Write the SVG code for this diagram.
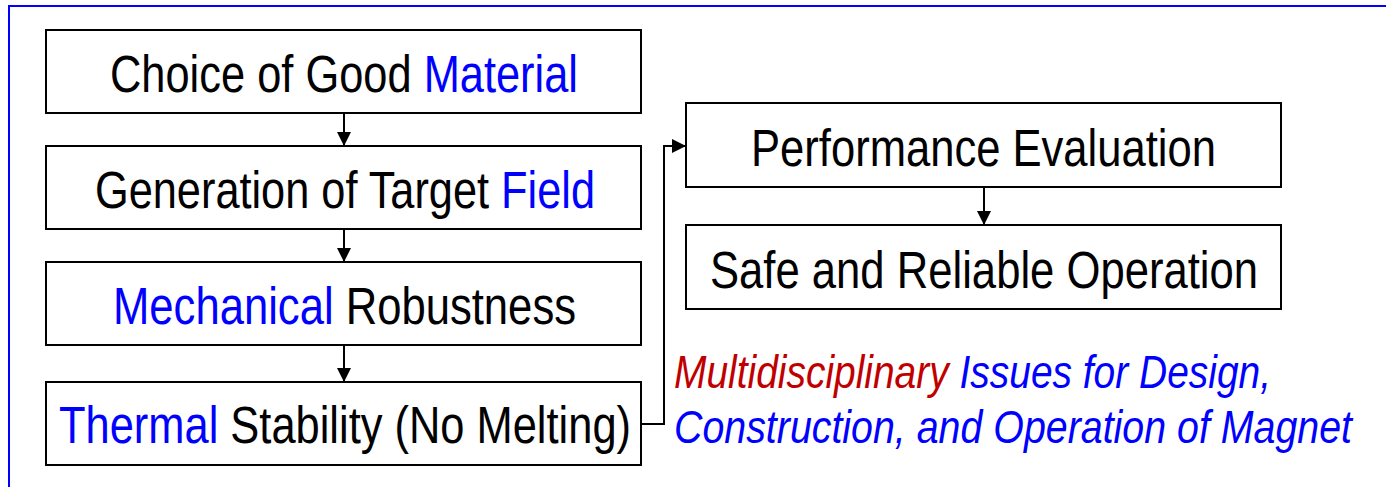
<svg xmlns="http://www.w3.org/2000/svg" width="1386" height="487" viewBox="0 0 1386 487">
<defs>
<marker id="ah" viewBox="0 0 14 14" refX="14" refY="7" markerWidth="14" markerHeight="14" markerUnits="userSpaceOnUse" orient="auto"><path d="M0,0 L14,7 L0,14 Z" fill="#000"/></marker>
</defs>
<style>
.box{fill:#fff;stroke:#000;stroke-width:2}
.t{font-family:"Liberation Sans",Arial,sans-serif;font-size:51px;fill:#000}
.b{fill:#0000ff}
.r{fill:#c00000}
.it{font-family:"Liberation Sans",Arial,sans-serif;font-size:47px;font-style:italic;fill:#0000ff}
.c{fill:none;stroke:#000;stroke-width:2;marker-end:url(#ah)}
</style>
<rect width="1386" height="487" fill="#fff"/>
<rect x="9" y="6" width="1400" height="500" fill="none" stroke="#0000ff" stroke-width="2"/>
<g id="connectors">
<line class="c" x1="344" y1="113" x2="344" y2="146"/>
<line class="c" x1="344" y1="229" x2="344" y2="262"/>
<line class="c" x1="344" y1="345" x2="344" y2="382"/>
<line class="c" x1="984" y1="187" x2="984" y2="225"/>
<polyline class="c" points="641,424 664,424 664,146 686,146"/>
</g>
<g id="n1"><rect class="box" x="46" y="30" width="595" height="83"/><text class="t" x="110" y="92" textLength="468" lengthAdjust="spacingAndGlyphs">Choice of Good <tspan class="b">Material</tspan></text></g>
<g id="n2"><rect class="box" x="46" y="146" width="595" height="83"/><text class="t" x="95" y="208" textLength="500" lengthAdjust="spacingAndGlyphs">Generation of Target <tspan class="b">Field</tspan></text></g>
<g id="n3"><rect class="box" x="46" y="262" width="595" height="83"/><text class="t" x="113" y="324" textLength="463" lengthAdjust="spacingAndGlyphs"><tspan class="b">Mechanical</tspan> Robustness</text></g>
<g id="n4"><rect class="box" x="46" y="382" width="595" height="83"/><text class="t" x="59" y="443" textLength="572" lengthAdjust="spacingAndGlyphs"><tspan class="b">Thermal</tspan> Stability (No Melting)</text></g>
<g id="n5"><rect class="box" x="686" y="103" width="595" height="84"/><text class="t" x="751" y="166" textLength="465" lengthAdjust="spacingAndGlyphs">Performance Evaluation</text></g>
<g id="n6"><rect class="box" x="686" y="225" width="595" height="84"/><text class="t" x="710" y="288" textLength="548" lengthAdjust="spacingAndGlyphs">Safe and Reliable Operation</text></g>
<g id="note"><text class="it" x="674" y="388" textLength="597" lengthAdjust="spacingAndGlyphs"><tspan class="r">Multidisciplinary</tspan> Issues for Design,</text><text class="it" x="674" y="443" textLength="678" lengthAdjust="spacingAndGlyphs">Construction, and Operation of Magnet</text></g>
</svg>
